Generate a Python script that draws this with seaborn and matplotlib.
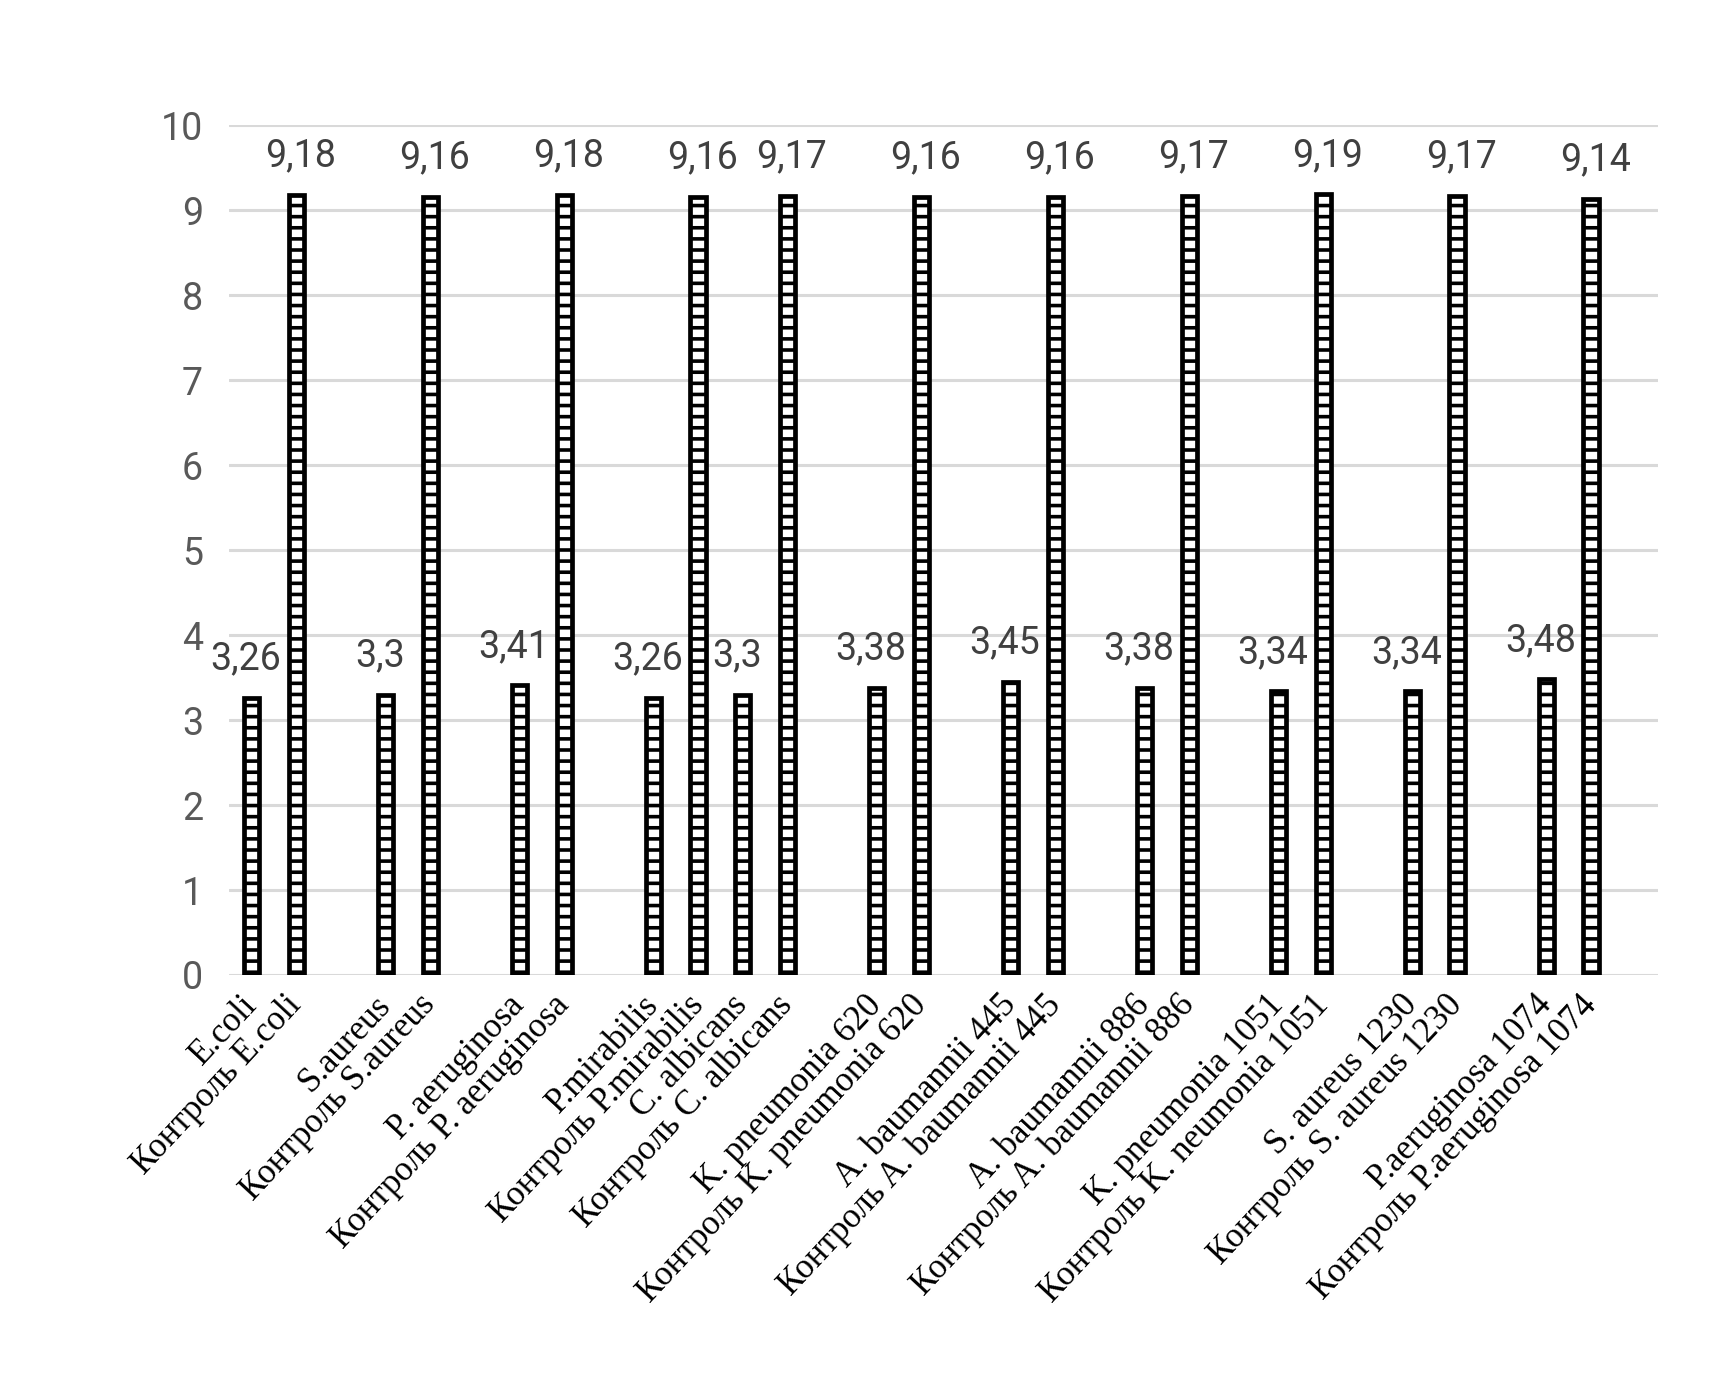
import matplotlib
matplotlib.use('Agg')
import matplotlib.pyplot as plt
import seaborn as sns
import pandas as pd

# strains and their controls
strains = ['E.coli', 'S.aureus', 'P. aeruginosa', 'P.mirabilis', 'C. albicans',
           'K. pneumonia 620', 'A. baumannii 445', 'A. baumannii 886',
           'K. pneumonia 1051', 'S. aureus 1230', 'P.aeruginosa 1074']
controls = ['Контроль E.coli', 'Контроль S.aureus', 'Контроль P. aeruginosa',
            'Контроль P.mirabilis', 'Контроль C. albicans',
            'Контроль K. pneumonia 620', 'Контроль A. baumannii 445',
            'Контроль A. baumannii 886', 'Контроль K. neumonia 1051',
            'Контроль S. aureus 1230', 'Контроль P.aeruginosa 1074']
strain_vals = [3.26, 3.3, 3.41, 3.26, 3.3, 3.38, 3.45, 3.38, 3.34, 3.34, 3.48]
control_vals = [9.18, 9.16, 9.18, 9.16, 9.17, 9.16, 9.16, 9.17, 9.19, 9.17, 9.14]

# empty category slot after each pair (none after P.mirabilis)
gap_after = [True, True, True, False, True, True, True, True, True, True, True]

rows = []
order = []
for i in range(len(strains)):
    rows.append({'label': strains[i], 'value': strain_vals[i], 'kind': 'strain'})
    rows.append({'label': controls[i], 'value': control_vals[i], 'kind': 'control'})
    order += [strains[i], controls[i]]
    if gap_after[i]:
        order.append('_gap%d' % i)
df = pd.DataFrame(rows)

sns.set_theme(style='white')
plt.rcParams['hatch.color'] = 'black'
plt.rcParams['hatch.linewidth'] = 1.3

fig, ax = plt.subplots(figsize=(8.555, 6.895), dpi=200)
fig.subplots_adjust(left=0.134, right=0.969, top=0.909, bottom=0.293)

sns.barplot(data=df, x='label', y='value', order=order, color='white',
            edgecolor='black', linewidth=1.7, hatch='---', width=0.34,
            saturation=1, ax=ax)

ax.set_ylim(0, 10)
ax.set_yticks(range(0, 11))
ax.yaxis.grid(True, color='#d9d9d9', linewidth=1.1)
ax.set_axisbelow(True)
for s in ax.spines.values():
    s.set_visible(False)
ax.set_xlabel('')
ax.set_ylabel('')

ax.tick_params(axis='y', length=0, pad=9.5, labelsize=13.5, labelcolor='#595959')
for t in ax.get_yticklabels():
    t.set_fontfamily('Roboto')

ax.set_xticks(range(len(order)))
ax.set_xticklabels(['' if o.startswith('_gap') else o for o in order],
                   rotation=47, ha='right', va='center', rotation_mode='anchor',
                   fontfamily='Liberation Serif', fontsize=12.5, color='black')
ax.tick_params(axis='x', length=0, pad=9)

# data labels
for _, r in df.iterrows():
    xpos = order.index(r['label'])
    txt = ('%g' % r['value']).replace('.', ',')
    dx = -2 if r['kind'] == 'strain' else 1.5
    ax.annotate(txt, (xpos, r['value']), xytext=(dx, 14), textcoords='offset points',
                ha='center', va='center', fontsize=13.5, color='#404040',
                fontfamily='Roboto')

plt.savefig('out.png', dpi=200)
